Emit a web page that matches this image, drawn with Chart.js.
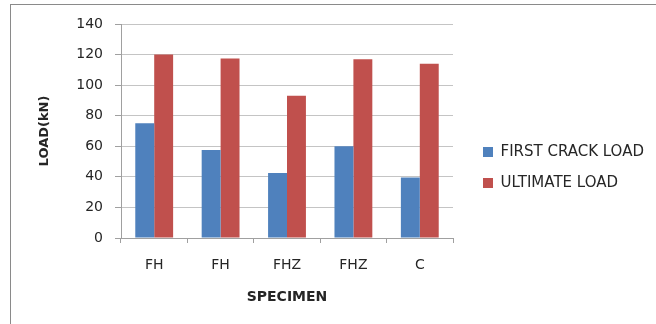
<!DOCTYPE html>
<html>
<head>
<meta charset="utf-8">
<script src="https://cdn.jsdelivr.net/npm/chart.js@4/dist/chart.umd.min.js"></script>
<style>
  html, body { margin: 0; padding: 0; background: #ffffff; overflow: hidden; }
  #wrap { position: relative; width: 656px; height: 324px; }
  #frame {
    position: absolute; left: 10px; top: 4px; width: 700px; height: 400px;
    border-left: 1px solid #8a8a8a; border-top: 1px solid #8a8a8a;
    box-sizing: border-box;
  }
  canvas { position: absolute; left: 0; top: 0; }
</style>
</head>
<body>
<div id="wrap">
  <div id="frame"></div>
  <canvas id="chart" width="656" height="324"></canvas>
</div>
<script>
// Specimens along the x axis
const specimens = ['FH', 'FH', 'FHZ', 'FHZ', 'C'];
// Loads in kN
const firstCrackLoad = [75, 57.5, 42.5, 60, 39.5];
const ultimateLoad = [120, 117.5, 93, 117, 114];
const seriesNames = ['FIRST CRACK LOAD', 'ULTIMATE LOAD'];
const yMax = 140;
const yStep = 20;

const FONT = 'DejaVu Sans';
const TEXT = '#262626';
const AXIS = '#a0a0a0';
const GRID = '#c4c4c4';

// Legend column: fixed width on the right, items set a bit away from the plot
const LEGEND_WIDTH = 203;
const LEGEND_GAP = 14;
const legendPlacement = {
  id: 'legendPlacement',
  beforeLayout(chart) {
    const lg = chart.legend;
    if (lg && !lg._fixedWidth) {
      lg._fixedWidth = true;
      const fit = lg.fit;
      lg.fit = function () { fit.call(this); this.width = LEGEND_WIDTH; };
    }
  },
  afterLayout(chart) {
    const lg = chart.legend;
    if (lg) { lg.left += LEGEND_GAP; lg.right += LEGEND_GAP; }
  }
};

new Chart(document.getElementById('chart'), {
  type: 'bar',
  data: {
    labels: specimens,
    datasets: [
      { label: seriesNames[0], data: firstCrackLoad, backgroundColor: '#4f81bd' },
      { label: seriesNames[1], data: ultimateLoad, backgroundColor: '#c0504d' }
    ]
  },
  options: {
    responsive: false,
    animation: false,
    devicePixelRatio: 1,
    categoryPercentage: 0.57,
    barPercentage: 1.0,
    layout: { padding: { left: 11, top: 24, right: 0, bottom: 13 } },
    plugins: {
      tooltip: { enabled: false },
      legend: {
        position: 'right',
        align: 'center',
        labels: {
          boxWidth: 10, boxHeight: 10, padding: 16,
          color: TEXT,
          font: { family: FONT, size: 15 }
        }
      }
    },
    scales: {
      x: {
        afterFit(scale) { scale.height = 73; },
        grid: { display: true, drawOnChartArea: false, drawTicks: true, tickLength: 5, tickColor: AXIS, offset: true },
        border: { display: true, color: AXIS },
        ticks: { color: TEXT, font: { family: FONT, size: 14 }, padding: 14 },
        title: {
          display: true, text: 'SPECIMEN', color: TEXT,
          font: { family: FONT, size: 14, weight: 'bold' },
          padding: { top: 0, bottom: 5 }
        }
      },
      y: {
        min: 0, max: yMax,
        afterFit(scale) { scale.width = 110; },
        grid: { color: GRID, tickColor: AXIS, tickLength: 6 },
        border: { display: true, color: AXIS },
        ticks: { stepSize: yStep, color: TEXT, font: { family: FONT, size: 14 }, padding: 12 },
        title: {
          display: true, text: 'LOAD(kN)', color: TEXT,
          font: { family: FONT, size: 13, weight: 'bold' },
          padding: { top: 26, bottom: 0 }
        }
      }
    }
  },
  plugins: [legendPlacement]
});
</script>
</body>
</html>
